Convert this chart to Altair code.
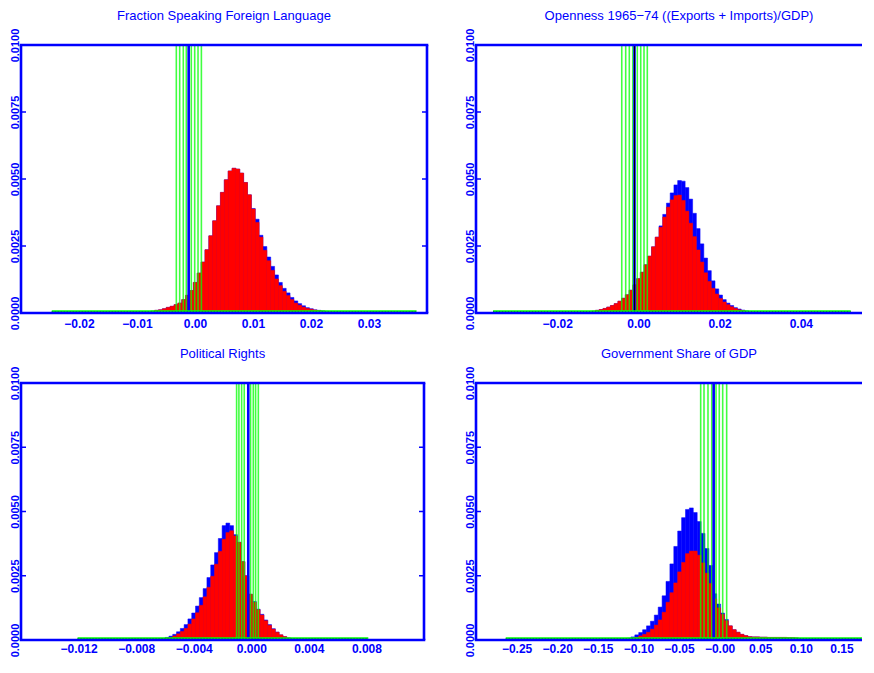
import altair as alt
import pandas as pd

BLUE = "#0000ff"
RED = "#ff0000"
GREEN = "#00ff00"
FONT = "Liberation Sans"

Y_TICKS = [0.0, 0.0025, 0.005, 0.0075, 0.01]
Y_INNER_TICKS = [0.0025, 0.005, 0.0075]

# ---------------- Panel 1 ----------------
P1_TITLE = "Fraction Speaking Foreign Language"
P1_DOMAIN = [-0.03, 0.04]
P1_XTICKS = [-0.02, -0.01, 0.0, 0.01, 0.02, 0.03]
P1_XLABELS = ["\u22120.02", "\u22120.01", "0.00", "0.01", "0.02", "0.03"]
P1_BIN_START = -0.00829
P1_BIN_WIDTH = 0.000667
P1_RED = [0.00005, 0.00007, 0.0001, 0.00012, 0.00016, 0.00021, 0.00025, 0.00031,
          0.00037, 0.0005, 0.00066, 0.00084, 0.00114, 0.00149, 0.0019, 0.00236,
          0.00288, 0.00344, 0.004, 0.0045, 0.00497, 0.0053, 0.0054, 0.00537,
          0.00522, 0.00487, 0.00441, 0.00388, 0.00338, 0.00283, 0.00234, 0.00195,
          0.00159, 0.00127, 0.00102, 0.00081, 0.00065, 0.0005, 0.00037, 0.00029,
          0.00022, 0.00017, 0.00014, 0.00011, 0.00009, 0.00007, 0.00006]
P1_BLUE = [0.00005, 0.00007, 0.0001, 0.00012, 0.00016, 0.00021, 0.00025, 0.00031,
           0.00037, 0.0005, 0.00066, 0.00084, 0.00114, 0.00149, 0.0019, 0.00236,
           0.00288, 0.00344, 0.004, 0.0045, 0.00497, 0.0053, 0.0054, 0.00537,
           0.00522, 0.00487, 0.00441, 0.0039, 0.0035, 0.0029, 0.00248, 0.00209,
           0.00174, 0.00142, 0.00114, 0.00092, 0.00075, 0.00058, 0.00045, 0.00035,
           0.00027, 0.0002, 0.00016, 0.00012, 0.0001, 0.00008, 0.00006]
P1_GREEN = [-0.00322, -0.00264, -0.00202, -0.0015, -0.00064, -0.00005, 0.00052, 0.0011]
P1_CENTER = -0.00109
P1_RANGE = [-0.0247, 0.0382]

# ---------------- Panel 2 ----------------
P2_TITLE = "Openness 1965\u221274 ((Exports + Imports)/GDP)"
P2_DOMAIN = [-0.04, 0.05507]
P2_XTICKS = [-0.02, 0.0, 0.02, 0.04]
P2_XLABELS = ["\u22120.02", "0.00", "0.02", "0.04"]
P2_BIN_START = -0.01149
P2_BIN_WIDTH = 0.00092
P2_RED = [0.00007, 0.0001, 0.00013, 0.00017, 0.00022, 0.00028, 0.00035, 0.00044,
          0.00055, 0.00068, 0.00085, 0.00105, 0.00128, 0.00152, 0.0018, 0.00212,
          0.00247, 0.00283, 0.0032, 0.00358, 0.00395, 0.00422, 0.00438, 0.0044,
          0.0042, 0.0038, 0.00335, 0.00285, 0.00235, 0.0019, 0.0015, 0.00118,
          0.00092, 0.00071, 0.00054, 0.00041, 0.00031, 0.00023, 0.00017, 0.00012,
          0.00009, 0.00006]
P2_BLUE = [0.00007, 0.0001, 0.00013, 0.00017, 0.00022, 0.00028, 0.00035, 0.00044,
           0.00055, 0.00068, 0.00085, 0.00105, 0.00128, 0.00152, 0.0018, 0.00212,
           0.00247, 0.00283, 0.00325, 0.00368, 0.0041, 0.00448, 0.00478, 0.00494,
           0.00492, 0.00468, 0.00425, 0.00372, 0.00315, 0.00258, 0.00205, 0.00158,
           0.0012, 0.0009, 0.00067, 0.0005, 0.00037, 0.00028, 0.0002, 0.00015,
           0.00011, 0.00008]
P2_GREEN = [-0.0041, -0.00313, -0.00224, -0.0014, -0.00027, 0.00057, 0.00138, 0.00219]
P2_CENTER = -0.00096
P2_RANGE = [-0.0358, 0.0523]

# ---------------- Panel 3 ----------------
P3_TITLE = "Political Rights"
P3_DOMAIN = [-0.016, 0.012]
P3_XTICKS = [-0.012, -0.008, -0.004, 0.0, 0.004, 0.008]
P3_XLABELS = ["\u22120.012", "\u22120.008", "\u22120.004", "0.000", "0.004", "0.008"]
P3_BIN_START = -0.005986
P3_BIN_WIDTH = 0.000264
P3_RED = [0.00007, 0.0001, 0.00016, 0.00024, 0.00033, 0.00045, 0.00062, 0.00082,
          0.00106, 0.00135, 0.00168, 0.00205, 0.00248, 0.00295, 0.00345, 0.00392,
          0.00418, 0.00425, 0.00405, 0.0038, 0.00305, 0.0025, 0.00178, 0.00147,
          0.00118, 0.00097, 0.00075, 0.00057, 0.00042, 0.0003, 0.0002, 0.00013,
          0.00008, 0.00005]
P3_BLUE = [0.0001, 0.00015, 0.00022, 0.00032, 0.00045, 0.0006, 0.00082, 0.00105,
           0.00132, 0.00165, 0.002, 0.00243, 0.00292, 0.0034, 0.00395, 0.00445,
           0.00455, 0.00445, 0.0041, 0.0038, 0.00305, 0.0025, 0.00178, 0.0015,
           0.0012, 0.001, 0.00078, 0.0006, 0.00044, 0.00031, 0.0002, 0.00013,
           0.00008, 0.00005]
P3_GREEN = [-0.00102, -0.00086, -0.00067, -0.00049, -0.00005, 0.00014, 0.0003, 0.00049]
P3_CENTER = -0.00021
P3_RANGE = [-0.01207, 0.00813]

# ---------------- Panel 4 ----------------
P4_TITLE = "Government Share of GDP"
P4_DOMAIN = [-0.3, 0.17537]
P4_XTICKS = [-0.25, -0.2, -0.15, -0.1, -0.05, 0.0, 0.05, 0.1, 0.15]
P4_XLABELS = ["\u22120.25", "\u22120.20", "\u22120.15", "\u22120.10", "\u22120.05",
              "\u22120.00", "0.05", "0.10", "0.15"]
P4_BIN_START = -0.114
P4_BIN_WIDTH = 0.0048
P4_RED = [0.00003, 0.00005, 0.0001, 0.00016, 0.00022, 0.0003, 0.00042, 0.00058,
          0.00078, 0.00108, 0.00147, 0.00184, 0.00222, 0.00265, 0.00302, 0.00336,
          0.00346, 0.00346, 0.0033, 0.003, 0.0026, 0.0022, 0.0016, 0.00125,
          0.001, 0.00075, 0.00055, 0.0004, 0.0003, 0.00022, 0.00017, 0.00013,
          0.00012, 0.00012, 0.00011, 0.00011, 0.0001, 0.0001, 0.0001, 0.0001,
          0.0001, 0.00009, 0.00009, 0.00008, 0.00005]
P4_BLUE = [0.00007, 0.00012, 0.0002, 0.00029, 0.0004, 0.00055, 0.00073, 0.00097,
           0.00128, 0.00172, 0.00228, 0.00296, 0.00364, 0.00424, 0.00476, 0.00508,
           0.00514, 0.00496, 0.00461, 0.00415, 0.00356, 0.0029, 0.0018, 0.0014,
           0.00105, 0.0008, 0.00055, 0.0004, 0.0003, 0.00022, 0.00017, 0.00013,
           0.00012, 0.00012, 0.00011, 0.00011, 0.0001, 0.0001, 0.0001, 0.0001,
           0.0001, 0.00009, 0.00009, 0.00008, 0.00005]
P4_GREEN = [-0.0233, -0.0192, -0.0143, -0.0097, -0.0044, -0.0004, 0.0038, 0.0087]
P4_CENTER = -0.0073
P4_RANGE = [-0.2634, 0.17537]


def label_expr(values, labels):
    vals = ",".join(repr(float(v)) for v in values)
    labs = ",".join("'" + s + "'" for s in labels)
    return f"[{labs}][indexof([{vals}], datum.value)]"


def panel(title, domain, xticks, xlabels, start, width, red, blue, green,
          center, rng, W, H, dark=False, right_frame=True, title_dx=0, xpad=5):
    n = len(red)
    bins = pd.DataFrame({
        "x0": [start + i * width for i in range(n)],
        "x1": [start + (i + 1) * width for i in range(n)],
        "red": red,
        "blue": blue,
    })
    xs = alt.Scale(domain=domain, nice=False, zero=False)
    ys = alt.Scale(domain=[0, 0.01], nice=False, zero=False)
    xaxis = alt.Axis(values=xticks, labelExpr=label_expr(xticks, xlabels),
                     title=None, labelFlush=False, labelPadding=xpad,
                     labelFontSize=12)
    yaxis = alt.Axis(values=Y_TICKS, format=".4f", title=None, labelAngle=270,
                     labelAlign="center", labelBaseline="bottom",
                     labelPadding=1, labelFontSize=11)

    def X(f):
        return alt.X(f, scale=xs, axis=xaxis)

    def Y(f):
        return alt.Y(f, scale=ys, axis=yaxis)

    blue_l = alt.Chart(bins).mark_rect(color=BLUE, stroke=BLUE, strokeWidth=0.5,
                                       clip=True).encode(
        x=X("x0:Q"), x2="x1:Q", y=Y("blue:Q"), y2=alt.datum(0))
    red_l = alt.Chart(bins).mark_rect(color=RED, stroke=RED, strokeWidth=0.5,
                                      clip=True).encode(
        x=X("x0:Q"), x2="x1:Q", y=Y("red:Q"), y2=alt.datum(0))

    gdf = pd.DataFrame({"x": green})
    green_l = alt.Chart(gdf).mark_rule(color=GREEN, strokeWidth=1.6,
                                       opacity=0.75).encode(x=X("x:Q"))

    cdf = pd.DataFrame({"x": [center]})
    center_l = alt.Chart(cdf).mark_rule(color=BLUE, strokeWidth=2.6).encode(
        x=X("x:Q"))
    layers = [blue_l, red_l, green_l, center_l]
    if dark:
        layers.append(alt.Chart(cdf).mark_rule(color="#000000", strokeWidth=1).encode(
            x=X("x:Q")))

    bdf = pd.DataFrame({"a": [rng[0]], "b": [rng[1]], "y": [0.0]})
    base_l = alt.Chart(bdf).mark_rule(color=GREEN, strokeWidth=2.5, yOffset=-1.5,
                                      clip=True).encode(
        x=X("a:Q"), x2="b:Q", y=Y("y:Q"))
    base_dots = alt.Chart(bdf).mark_rule(color="#119911", strokeWidth=1,
                                         strokeDash=[1, 2], yOffset=-1.5,
                                         clip=True).encode(
        x=X("a:Q"), x2="b:Q", y=Y("y:Q"))
    layers += [base_l, base_dots]

    tdf = pd.DataFrame({"y": Y_INNER_TICKS})
    tl = alt.Chart(tdf).mark_rule(color=BLUE, strokeWidth=1.5).encode(
        y=Y("y:Q"), x=alt.value(0), x2=alt.value(5))
    layers.append(tl)
    if right_frame:
        tr = alt.Chart(tdf).mark_rule(color=BLUE, strokeWidth=1.5).encode(
            y=Y("y:Q"), x=alt.value(W - 5), x2=alt.value(W))
        layers.append(tr)

    # frame
    fw = 2.6
    ext = 1.3 if right_frame else 0
    layers.append(alt.Chart().mark_rule(color=BLUE, strokeWidth=fw).encode(
        x=alt.value(0), y=alt.value(0), y2=alt.value(H)))
    layers.append(alt.Chart().mark_rule(color=BLUE, strokeWidth=fw).encode(
        y=alt.value(0), x=alt.value(-1.3), x2=alt.value(W + ext)))
    layers.append(alt.Chart().mark_rule(color=BLUE, strokeWidth=fw).encode(
        y=alt.value(H), x=alt.value(-1.3), x2=alt.value(W + ext)))
    if right_frame:
        layers.append(alt.Chart().mark_rule(color=BLUE, strokeWidth=fw).encode(
            x=alt.value(W), y=alt.value(0), y2=alt.value(H)))

    return alt.layer(*layers).properties(
        width=W, height=H,
        title=alt.TitleParams(text=title, color=BLUE, fontSize=13,
                              fontWeight="normal", font=FONT, offset=5,
                              anchor="middle", dx=title_dx))


p1 = panel(P1_TITLE, P1_DOMAIN, P1_XTICKS, P1_XLABELS, P1_BIN_START, P1_BIN_WIDTH,
           P1_RED, P1_BLUE, P1_GREEN, P1_CENTER, P1_RANGE, 406, 268)
p2 = panel(P2_TITLE, P2_DOMAIN, P2_XTICKS, P2_XLABELS, P2_BIN_START, P2_BIN_WIDTH,
           P2_RED, P2_BLUE, P2_GREEN, P2_CENTER, P2_RANGE, 386, 268, dark=True,
           right_frame=False, title_dx=10)
p3 = panel(P3_TITLE, P3_DOMAIN, P3_XTICKS, P3_XLABELS, P3_BIN_START, P3_BIN_WIDTH,
           P3_RED, P3_BLUE, P3_GREEN, P3_CENTER, P3_RANGE, 403, 257, xpad=3)
p4 = panel(P4_TITLE, P4_DOMAIN, P4_XTICKS, P4_XLABELS, P4_BIN_START, P4_BIN_WIDTH,
           P4_RED, P4_BLUE, P4_GREEN, P4_CENTER, P4_RANGE, 386, 257,
           right_frame=False, title_dx=10, xpad=3)

top = alt.hconcat(p1, p2, spacing=33)
bottom = alt.hconcat(p3, p4, spacing=36)
chart = alt.vconcat(top, bottom, spacing=18).properties(
    padding={"left": 0, "top": 2, "right": 0, "bottom": 0},
    background="#ffffff"
).configure_view(
    strokeWidth=0
).configure_axis(
    domain=False, ticks=False, grid=False, labelColor=BLUE, labelFont=FONT,
    labelFontWeight="bold"
)

chart.save("out.html", embed_options={"renderer": "svg", "actions": False})
